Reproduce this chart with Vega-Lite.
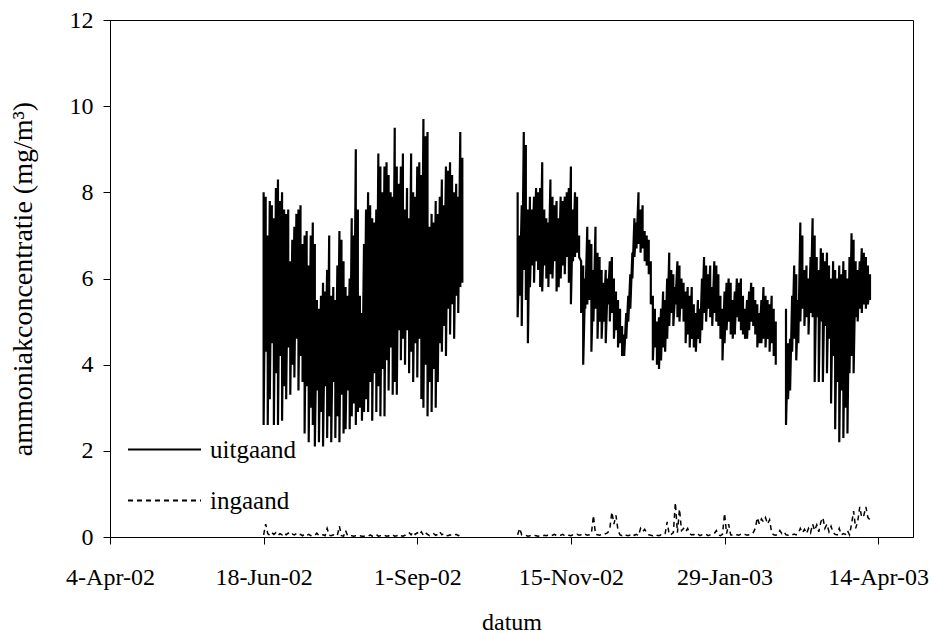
{
"$schema":"https://vega.github.io/schema/vega-lite/v6.json",
"width":803,"height":517,
"autosize":{"type":"none"},
"padding":{"left":110,"top":20,"right":21,"bottom":96},
"background":"white",
"config":{
"font":"Liberation Serif, Times New Roman, serif",
"view":{"stroke":"black","strokeWidth":1},
"axis":{"domainColor":"black","domainWidth":1,"tickColor":"black","tickSize":7,"labelColor":"black","titleColor":"black","labelFont":"Liberation Serif, Times New Roman, serif","titleFont":"Liberation Serif, Times New Roman, serif","labelFontSize":24,"titleFontSize":24,"titleFontWeight":"normal","grid":false,"labelFlush":false},
"legend":{"orient":"none","legendX":17,"legendY":392,"padding":0,"symbolType":"stroke","symbolSize":5329,"symbolStrokeColor":"black","symbolStrokeWidth":2,"labelFont":"Liberation Serif, Times New Roman, serif","labelFontSize":25,"labelColor":"black","labelOffset":8,"rowPadding":-36,"title":null}
},
"datasets":{
"uit":[
{"t":"2002-06-18","hi":8.0,"lo":2.6},{"t":"2002-06-19","hi":7.9,"lo":4.3},{"t":"2002-06-20","hi":7.0,"lo":2.6},{"t":"2002-06-21","hi":7.8,"lo":3.2},{"t":"2002-06-22","hi":7.7,"lo":4.5},{"t":"2002-06-23","hi":7.4,"lo":2.6},{"t":"2002-06-24","hi":8.1,"lo":3.8},{"t":"2002-06-25","hi":8.3,"lo":2.6},{"t":"2002-06-26","hi":7.8,"lo":4.2},{"t":"2002-06-27","hi":8.0,"lo":2.7},{"t":"2002-06-28","hi":7.6,"lo":3.5},{"t":"2002-06-29","hi":7.5,"lo":3.2},{"t":"2002-06-30","hi":7.6,"lo":4.4},
{"t":"2002-07-01","hi":6.4,"lo":3.3},{"t":"2002-07-02","hi":6.9,"lo":4.0},{"t":"2002-07-03","hi":7.2,"lo":3.7},{"t":"2002-07-04","hi":7.5,"lo":4.6},{"t":"2002-07-05","hi":7.6,"lo":3.4},{"t":"2002-07-06","hi":7.7,"lo":4.2},{"t":"2002-07-07","hi":6.8,"lo":3.6},{"t":"2002-07-08","hi":7.0,"lo":2.4},{"t":"2002-07-09","hi":7.1,"lo":3.5},{"t":"2002-07-10","hi":6.3,"lo":2.2},{"t":"2002-07-11","hi":7.0,"lo":3.0},{"t":"2002-07-12","hi":7.3,"lo":2.6},{"t":"2002-07-13","hi":6.8,"lo":2.1},{"t":"2002-07-14","hi":5.5,"lo":3.4},{"t":"2002-07-15","hi":5.3,"lo":2.2},{"t":"2002-07-16","hi":5.6,"lo":2.9},{"t":"2002-07-17","hi":5.9,"lo":2.1},{"t":"2002-07-18","hi":5.7,"lo":3.5},{"t":"2002-07-19","hi":6.2,"lo":2.3},{"t":"2002-07-20","hi":7.0,"lo":2.8},{"t":"2002-07-21","hi":5.6,"lo":2.2},{"t":"2002-07-22","hi":5.8,"lo":3.6},{"t":"2002-07-23","hi":5.5,"lo":2.3},{"t":"2002-07-24","hi":6.3,"lo":2.8},{"t":"2002-07-25","hi":7.1,"lo":2.2},{"t":"2002-07-26","hi":6.9,"lo":3.3},{"t":"2002-07-27","hi":6.4,"lo":2.4},{"t":"2002-07-28","hi":5.8,"lo":2.5},{"t":"2002-07-29","hi":5.6,"lo":3.4},{"t":"2002-07-30","hi":6.0,"lo":2.5},{"t":"2002-07-31","hi":7.4,"lo":2.8},
{"t":"2002-08-01","hi":7.0,"lo":3.1},{"t":"2002-08-02","hi":9.0,"lo":2.6},{"t":"2002-08-03","hi":7.6,"lo":2.9},{"t":"2002-08-04","hi":5.6,"lo":3.0},{"t":"2002-08-05","hi":5.2,"lo":2.7},{"t":"2002-08-06","hi":6.8,"lo":2.9},{"t":"2002-08-07","hi":7.6,"lo":3.2},{"t":"2002-08-08","hi":8.0,"lo":2.9},{"t":"2002-08-09","hi":7.7,"lo":3.6},{"t":"2002-08-10","hi":7.4,"lo":2.7},{"t":"2002-08-11","hi":7.3,"lo":3.8},{"t":"2002-08-12","hi":7.6,"lo":2.9},{"t":"2002-08-13","hi":8.9,"lo":3.5},{"t":"2002-08-14","hi":8.6,"lo":2.8},{"t":"2002-08-15","hi":8.0,"lo":3.9},{"t":"2002-08-16","hi":8.6,"lo":2.8},{"t":"2002-08-17","hi":8.7,"lo":4.1},{"t":"2002-08-18","hi":8.4,"lo":3.4},{"t":"2002-08-19","hi":8.0,"lo":4.4},{"t":"2002-08-20","hi":7.9,"lo":3.3},{"t":"2002-08-21","hi":9.5,"lo":3.6},{"t":"2002-08-22","hi":8.6,"lo":3.3},{"t":"2002-08-23","hi":8.2,"lo":4.8},{"t":"2002-08-24","hi":8.6,"lo":4.1},{"t":"2002-08-25","hi":8.9,"lo":4.6},{"t":"2002-08-26","hi":7.6,"lo":4.0},{"t":"2002-08-27","hi":8.1,"lo":4.8},{"t":"2002-08-28","hi":7.4,"lo":3.8},{"t":"2002-08-29","hi":8.9,"lo":4.3},{"t":"2002-08-30","hi":8.0,"lo":3.6},{"t":"2002-08-31","hi":7.9,"lo":4.5},
{"t":"2002-09-01","hi":8.6,"lo":3.7},{"t":"2002-09-02","hi":8.7,"lo":4.6},{"t":"2002-09-03","hi":8.4,"lo":3.2},{"t":"2002-09-04","hi":9.7,"lo":3.0},{"t":"2002-09-05","hi":9.3,"lo":4.0},{"t":"2002-09-06","hi":9.4,"lo":2.8},{"t":"2002-09-07","hi":7.2,"lo":3.6},{"t":"2002-09-08","hi":7.5,"lo":2.9},{"t":"2002-09-09","hi":7.3,"lo":3.9},{"t":"2002-09-10","hi":7.8,"lo":3.0},{"t":"2002-09-11","hi":7.5,"lo":3.6},{"t":"2002-09-12","hi":7.9,"lo":4.5},{"t":"2002-09-13","hi":8.3,"lo":4.3},{"t":"2002-09-14","hi":7.7,"lo":4.9},{"t":"2002-09-15","hi":8.6,"lo":4.2},{"t":"2002-09-16","hi":8.5,"lo":5.3},{"t":"2002-09-17","hi":8.7,"lo":4.7},{"t":"2002-09-18","hi":8.4,"lo":5.4},{"t":"2002-09-19","hi":8.0,"lo":4.6},{"t":"2002-09-20","hi":8.2,"lo":5.6},{"t":"2002-09-21","hi":7.9,"lo":5.2},{"t":"2002-09-22","hi":9.4,"lo":5.8},{"t":"2002-09-23","hi":8.8,"lo":5.9},
{"t":"2002-10-05","hi":null,"lo":null},
{"t":"2002-10-20","hi":8.0,"lo":5.1},{"t":"2002-10-21","hi":7.0,"lo":5.6},{"t":"2002-10-22","hi":7.7,"lo":4.9},{"t":"2002-10-23","hi":9.4,"lo":6.2},{"t":"2002-10-24","hi":9.1,"lo":5.5},{"t":"2002-10-25","hi":7.6,"lo":4.5},{"t":"2002-10-26","hi":7.9,"lo":5.8},{"t":"2002-10-27","hi":7.6,"lo":6.3},{"t":"2002-10-28","hi":7.9,"lo":5.9},{"t":"2002-10-29","hi":8.1,"lo":6.4},{"t":"2002-10-30","hi":8.0,"lo":6.2},{"t":"2002-10-31","hi":8.1,"lo":5.8},
{"t":"2002-11-01","hi":8.7,"lo":5.7},{"t":"2002-11-02","hi":7.6,"lo":6.3},{"t":"2002-11-03","hi":7.4,"lo":6.0},{"t":"2002-11-04","hi":7.3,"lo":5.8},{"t":"2002-11-05","hi":8.3,"lo":6.1},{"t":"2002-11-06","hi":7.9,"lo":6.0},{"t":"2002-11-07","hi":7.7,"lo":6.4},{"t":"2002-11-08","hi":7.8,"lo":5.7},{"t":"2002-11-09","hi":7.4,"lo":5.8},{"t":"2002-11-10","hi":7.9,"lo":6.0},{"t":"2002-11-11","hi":7.8,"lo":6.3},{"t":"2002-11-12","hi":7.9,"lo":6.1},{"t":"2002-11-13","hi":8.0,"lo":6.5},{"t":"2002-11-14","hi":8.1,"lo":5.9},{"t":"2002-11-15","hi":8.6,"lo":5.4},{"t":"2002-11-16","hi":7.6,"lo":6.4},{"t":"2002-11-17","hi":8.0,"lo":6.5},{"t":"2002-11-18","hi":7.9,"lo":6.6},{"t":"2002-11-19","hi":7.0,"lo":6.5},{"t":"2002-11-20","hi":6.4,"lo":5.2},{"t":"2002-11-21","hi":6.3,"lo":4.0},{"t":"2002-11-22","hi":6.0,"lo":5.3},{"t":"2002-11-23","hi":7.2,"lo":5.4},{"t":"2002-11-24","hi":6.9,"lo":5.5},{"t":"2002-11-25","hi":6.8,"lo":4.3},{"t":"2002-11-26","hi":6.2,"lo":5.0},{"t":"2002-11-27","hi":7.2,"lo":5.3},{"t":"2002-11-28","hi":6.6,"lo":4.6},{"t":"2002-11-29","hi":6.5,"lo":5.0},{"t":"2002-11-30","hi":6.2,"lo":4.6},
{"t":"2002-12-01","hi":5.9,"lo":5.0},{"t":"2002-12-02","hi":6.2,"lo":4.5},{"t":"2002-12-03","hi":6.0,"lo":5.4},{"t":"2002-12-04","hi":6.4,"lo":5.0},{"t":"2002-12-05","hi":6.5,"lo":5.2},{"t":"2002-12-06","hi":6.0,"lo":4.6},{"t":"2002-12-07","hi":5.7,"lo":4.8},{"t":"2002-12-08","hi":5.5,"lo":4.4},{"t":"2002-12-09","hi":5.3,"lo":4.5},{"t":"2002-12-10","hi":4.9,"lo":4.2},{"t":"2002-12-11","hi":4.7,"lo":4.2},{"t":"2002-12-12","hi":5.2,"lo":4.6},{"t":"2002-12-13","hi":5.6,"lo":5.0},{"t":"2002-12-14","hi":6.1,"lo":5.3},{"t":"2002-12-15","hi":6.6,"lo":6.0},{"t":"2002-12-16","hi":7.4,"lo":6.5},{"t":"2002-12-17","hi":7.3,"lo":6.7},{"t":"2002-12-18","hi":8.0,"lo":6.8},{"t":"2002-12-19","hi":7.6,"lo":6.6},{"t":"2002-12-20","hi":7.7,"lo":6.7},{"t":"2002-12-21","hi":7.1,"lo":6.4},{"t":"2002-12-22","hi":7.0,"lo":6.3},{"t":"2002-12-23","hi":6.9,"lo":6.1},{"t":"2002-12-24","hi":6.4,"lo":5.4},{"t":"2002-12-25","hi":5.6,"lo":4.1},{"t":"2002-12-26","hi":5.3,"lo":4.4},{"t":"2002-12-27","hi":5.0,"lo":4.0},{"t":"2002-12-28","hi":5.1,"lo":3.9},{"t":"2002-12-29","hi":5.3,"lo":4.1},{"t":"2002-12-30","hi":5.7,"lo":4.4},{"t":"2002-12-31","hi":5.5,"lo":4.3},
{"t":"2003-01-01","hi":6.0,"lo":4.6},{"t":"2003-01-02","hi":6.6,"lo":4.9},{"t":"2003-01-03","hi":6.2,"lo":5.2},{"t":"2003-01-04","hi":6.1,"lo":4.9},{"t":"2003-01-05","hi":5.8,"lo":5.4},{"t":"2003-01-06","hi":6.4,"lo":5.1},{"t":"2003-01-07","hi":6.3,"lo":5.0},{"t":"2003-01-08","hi":6.0,"lo":5.3},{"t":"2003-01-09","hi":5.9,"lo":5.0},{"t":"2003-01-10","hi":5.7,"lo":4.5},{"t":"2003-01-11","hi":5.8,"lo":4.7},{"t":"2003-01-12","hi":5.6,"lo":4.4},{"t":"2003-01-13","hi":5.8,"lo":4.6},{"t":"2003-01-14","hi":5.4,"lo":4.4},{"t":"2003-01-15","hi":5.2,"lo":4.3},{"t":"2003-01-16","hi":5.5,"lo":4.6},{"t":"2003-01-17","hi":5.3,"lo":4.5},{"t":"2003-01-18","hi":6.0,"lo":4.8},{"t":"2003-01-19","hi":6.5,"lo":5.2},{"t":"2003-01-20","hi":6.3,"lo":5.0},{"t":"2003-01-21","hi":6.1,"lo":5.3},{"t":"2003-01-22","hi":6.3,"lo":5.1},{"t":"2003-01-23","hi":5.8,"lo":4.9},{"t":"2003-01-24","hi":6.4,"lo":5.2},{"t":"2003-01-25","hi":6.3,"lo":5.0},{"t":"2003-01-26","hi":6.1,"lo":4.9},{"t":"2003-01-27","hi":5.6,"lo":4.6},{"t":"2003-01-28","hi":5.3,"lo":4.1},{"t":"2003-01-29","hi":5.7,"lo":4.5},{"t":"2003-01-30","hi":5.9,"lo":4.8},{"t":"2003-01-31","hi":6.0,"lo":5.0},
{"t":"2003-02-01","hi":5.9,"lo":4.7},{"t":"2003-02-02","hi":5.5,"lo":4.6},{"t":"2003-02-03","hi":5.7,"lo":4.7},{"t":"2003-02-04","hi":6.0,"lo":5.1},{"t":"2003-02-05","hi":5.9,"lo":5.0},{"t":"2003-02-06","hi":6.0,"lo":4.8},{"t":"2003-02-07","hi":5.6,"lo":4.7},{"t":"2003-02-08","hi":5.3,"lo":4.6},{"t":"2003-02-09","hi":5.5,"lo":4.6},{"t":"2003-02-10","hi":5.7,"lo":4.8},{"t":"2003-02-11","hi":5.9,"lo":5.0},{"t":"2003-02-12","hi":5.8,"lo":4.9},{"t":"2003-02-13","hi":5.5,"lo":4.7},{"t":"2003-02-14","hi":5.4,"lo":4.4},{"t":"2003-02-15","hi":5.2,"lo":4.5},{"t":"2003-02-16","hi":5.5,"lo":4.5},{"t":"2003-02-17","hi":5.8,"lo":4.6},{"t":"2003-02-18","hi":5.6,"lo":4.4},{"t":"2003-02-19","hi":5.5,"lo":4.6},{"t":"2003-02-20","hi":5.4,"lo":4.3},{"t":"2003-02-21","hi":5.6,"lo":4.5},{"t":"2003-02-22","hi":5.3,"lo":4.2},{"t":"2003-02-23","hi":5.0,"lo":4.0},
{"t":"2003-02-25","hi":null,"lo":null},
{"t":"2003-02-28","hi":5.3,"lo":2.6},
{"t":"2003-03-01","hi":4.5,"lo":3.2},{"t":"2003-03-02","hi":4.6,"lo":3.4},{"t":"2003-03-03","hi":5.6,"lo":4.3},{"t":"2003-03-04","hi":6.3,"lo":4.6},{"t":"2003-03-05","hi":6.1,"lo":4.1},{"t":"2003-03-06","hi":5.5,"lo":4.5},{"t":"2003-03-07","hi":7.3,"lo":5.0},{"t":"2003-03-08","hi":7.0,"lo":5.3},{"t":"2003-03-09","hi":6.2,"lo":4.9},{"t":"2003-03-10","hi":6.3,"lo":5.1},{"t":"2003-03-11","hi":6.0,"lo":4.7},{"t":"2003-03-12","hi":6.5,"lo":5.2},{"t":"2003-03-13","hi":7.4,"lo":5.1},{"t":"2003-03-14","hi":7.0,"lo":3.6},{"t":"2003-03-15","hi":6.5,"lo":5.1},{"t":"2003-03-16","hi":6.2,"lo":3.6},{"t":"2003-03-17","hi":6.7,"lo":5.0},{"t":"2003-03-18","hi":6.6,"lo":3.6},{"t":"2003-03-19","hi":6.4,"lo":4.9},{"t":"2003-03-20","hi":6.6,"lo":3.8},{"t":"2003-03-21","hi":6.3,"lo":4.6},{"t":"2003-03-22","hi":6.0,"lo":3.1},{"t":"2003-03-23","hi":6.4,"lo":4.2},{"t":"2003-03-24","hi":6.2,"lo":2.5},{"t":"2003-03-25","hi":6.0,"lo":3.6},{"t":"2003-03-26","hi":6.3,"lo":2.2},{"t":"2003-03-27","hi":6.1,"lo":3.4},{"t":"2003-03-28","hi":6.4,"lo":2.3},{"t":"2003-03-29","hi":6.2,"lo":3.0},{"t":"2003-03-30","hi":6.0,"lo":2.4},{"t":"2003-03-31","hi":6.5,"lo":3.8},
{"t":"2003-04-01","hi":7.05,"lo":4.2},{"t":"2003-04-02","hi":6.9,"lo":3.8},{"t":"2003-04-03","hi":6.4,"lo":5.1},{"t":"2003-04-04","hi":6.2,"lo":5.0},{"t":"2003-04-05","hi":6.4,"lo":5.3},{"t":"2003-04-06","hi":6.7,"lo":5.2},{"t":"2003-04-07","hi":6.6,"lo":5.4},{"t":"2003-04-08","hi":6.5,"lo":5.3},{"t":"2003-04-09","hi":6.3,"lo":5.4},{"t":"2003-04-10","hi":6.1,"lo":5.5}
],
"in":[
{"t":"2002-06-18","v":0.05},{"t":"2002-06-19","v":0.3},{"t":"2002-06-20","v":0.08},{"t":"2002-06-21","v":0.04},{"t":"2002-06-22","v":0.1},{"t":"2002-06-23","v":0.06},{"t":"2002-06-24","v":0.1},{"t":"2002-06-25","v":0.04},{"t":"2002-06-26","v":0.08},{"t":"2002-06-27","v":0.05},{"t":"2002-06-28","v":0.1},{"t":"2002-06-29","v":0.05},{"t":"2002-06-30","v":0.09},
{"t":"2002-07-01","v":0.04},{"t":"2002-07-02","v":0.07},{"t":"2002-07-03","v":0.05},{"t":"2002-07-04","v":0.08},{"t":"2002-07-05","v":0.04},{"t":"2002-07-06","v":0.06},{"t":"2002-07-07","v":0.03},{"t":"2002-07-08","v":0.07},{"t":"2002-07-09","v":0.04},{"t":"2002-07-10","v":0.06},{"t":"2002-07-11","v":0.03},{"t":"2002-07-12","v":0.05},{"t":"2002-07-13","v":0.04},{"t":"2002-07-14","v":0.09},{"t":"2002-07-15","v":0.03},{"t":"2002-07-16","v":0.04},{"t":"2002-07-17","v":0.05},{"t":"2002-07-18","v":0.03},{"t":"2002-07-19","v":0.2},{"t":"2002-07-20","v":0.04},{"t":"2002-07-21","v":0.03},{"t":"2002-07-22","v":0.05},{"t":"2002-07-23","v":0.02},{"t":"2002-07-24","v":0.04},{"t":"2002-07-25","v":0.25},{"t":"2002-07-26","v":0.03},{"t":"2002-07-27","v":0.02},{"t":"2002-07-28","v":0.15},{"t":"2002-07-29","v":0.03},{"t":"2002-07-30","v":0.02},{"t":"2002-07-31","v":0.03},
{"t":"2002-08-01","v":0.02},{"t":"2002-08-02","v":0.03},{"t":"2002-08-03","v":0.02},{"t":"2002-08-04","v":0.03},{"t":"2002-08-05","v":0.02},{"t":"2002-08-06","v":0.02},{"t":"2002-08-07","v":0.03},{"t":"2002-08-08","v":0.02},{"t":"2002-08-09","v":0.05},{"t":"2002-08-10","v":0.02},{"t":"2002-08-11","v":0.03},{"t":"2002-08-12","v":0.06},{"t":"2002-08-13","v":0.02},{"t":"2002-08-14","v":0.03},{"t":"2002-08-15","v":0.02},{"t":"2002-08-16","v":0.04},{"t":"2002-08-17","v":0.02},{"t":"2002-08-18","v":0.03},{"t":"2002-08-19","v":0.02},{"t":"2002-08-20","v":0.05},{"t":"2002-08-21","v":0.02},{"t":"2002-08-22","v":0.03},{"t":"2002-08-23","v":0.06},{"t":"2002-08-24","v":0.03},{"t":"2002-08-25","v":0.02},{"t":"2002-08-26","v":0.04},{"t":"2002-08-27","v":0.08},{"t":"2002-08-28","v":0.1},{"t":"2002-08-29","v":0.05},{"t":"2002-08-30","v":0.12},{"t":"2002-08-31","v":0.06},
{"t":"2002-09-01","v":0.1},{"t":"2002-09-02","v":0.05},{"t":"2002-09-03","v":0.12},{"t":"2002-09-04","v":0.04},{"t":"2002-09-05","v":0.1},{"t":"2002-09-06","v":0.06},{"t":"2002-09-07","v":0.03},{"t":"2002-09-08","v":0.05},{"t":"2002-09-09","v":0.08},{"t":"2002-09-10","v":0.04},{"t":"2002-09-11","v":0.06},{"t":"2002-09-12","v":0.12},{"t":"2002-09-13","v":0.05},{"t":"2002-09-14","v":0.08},{"t":"2002-09-15","v":0.04},{"t":"2002-09-16","v":0.03},{"t":"2002-09-17","v":0.05},{"t":"2002-09-18","v":0.03},{"t":"2002-09-19","v":0.04},{"t":"2002-09-20","v":0.06},{"t":"2002-09-21","v":0.03},{"t":"2002-09-22","v":0.05},{"t":"2002-09-23","v":0.04},
{"t":"2002-10-05","v":null},
{"t":"2002-10-20","v":0.05},{"t":"2002-10-21","v":0.2},{"t":"2002-10-22","v":0.05},{"t":"2002-10-23","v":0.03},{"t":"2002-10-24","v":0.04},{"t":"2002-10-25","v":0.02},{"t":"2002-10-26","v":0.03},{"t":"2002-10-27","v":0.02},{"t":"2002-10-28","v":0.04},{"t":"2002-10-29","v":0.03},{"t":"2002-10-30","v":0.02},{"t":"2002-10-31","v":0.03},
{"t":"2002-11-01","v":0.02},{"t":"2002-11-02","v":0.04},{"t":"2002-11-03","v":0.03},{"t":"2002-11-04","v":0.05},{"t":"2002-11-05","v":0.03},{"t":"2002-11-06","v":0.04},{"t":"2002-11-07","v":0.06},{"t":"2002-11-08","v":0.03},{"t":"2002-11-09","v":0.05},{"t":"2002-11-10","v":0.04},{"t":"2002-11-11","v":0.06},{"t":"2002-11-12","v":0.03},{"t":"2002-11-13","v":0.05},{"t":"2002-11-14","v":0.04},{"t":"2002-11-15","v":0.03},{"t":"2002-11-16","v":0.05},{"t":"2002-11-17","v":0.04},{"t":"2002-11-18","v":0.06},{"t":"2002-11-19","v":0.04},{"t":"2002-11-20","v":0.05},{"t":"2002-11-21","v":0.03},{"t":"2002-11-22","v":0.06},{"t":"2002-11-23","v":0.04},{"t":"2002-11-24","v":0.05},{"t":"2002-11-25","v":0.08},{"t":"2002-11-26","v":0.5},{"t":"2002-11-27","v":0.06},{"t":"2002-11-28","v":0.05},{"t":"2002-11-29","v":0.04},{"t":"2002-11-30","v":0.06},
{"t":"2002-12-01","v":0.05},{"t":"2002-12-02","v":0.08},{"t":"2002-12-03","v":0.1},{"t":"2002-12-04","v":0.2},{"t":"2002-12-05","v":0.58},{"t":"2002-12-06","v":0.3},{"t":"2002-12-07","v":0.5},{"t":"2002-12-08","v":0.15},{"t":"2002-12-09","v":0.05},{"t":"2002-12-10","v":0.03},{"t":"2002-12-11","v":0.06},{"t":"2002-12-12","v":0.04},{"t":"2002-12-13","v":0.03},{"t":"2002-12-14","v":0.05},{"t":"2002-12-15","v":0.08},{"t":"2002-12-16","v":0.04},{"t":"2002-12-17","v":0.06},{"t":"2002-12-18","v":0.03},{"t":"2002-12-19","v":0.2},{"t":"2002-12-20","v":0.12},{"t":"2002-12-21","v":0.18},{"t":"2002-12-22","v":0.1},{"t":"2002-12-23","v":0.05},{"t":"2002-12-24","v":0.04},{"t":"2002-12-25","v":0.03},{"t":"2002-12-26","v":0.06},{"t":"2002-12-27","v":0.04},{"t":"2002-12-28","v":0.03},{"t":"2002-12-29","v":0.05},{"t":"2002-12-30","v":0.04},{"t":"2002-12-31","v":0.08},
{"t":"2003-01-01","v":0.35},{"t":"2003-01-02","v":0.05},{"t":"2003-01-03","v":0.06},{"t":"2003-01-04","v":0.1},{"t":"2003-01-05","v":0.8},{"t":"2003-01-06","v":0.1},{"t":"2003-01-07","v":0.65},{"t":"2003-01-08","v":0.15},{"t":"2003-01-09","v":0.2},{"t":"2003-01-10","v":0.12},{"t":"2003-01-11","v":0.2},{"t":"2003-01-12","v":0.08},{"t":"2003-01-13","v":0.05},{"t":"2003-01-14","v":0.06},{"t":"2003-01-15","v":0.04},{"t":"2003-01-16","v":0.07},{"t":"2003-01-17","v":0.03},{"t":"2003-01-18","v":0.05},{"t":"2003-01-19","v":0.04},{"t":"2003-01-20","v":0.06},{"t":"2003-01-21","v":0.03},{"t":"2003-01-22","v":0.05},{"t":"2003-01-23","v":0.07},{"t":"2003-01-24","v":0.08},{"t":"2003-01-25","v":0.15},{"t":"2003-01-26","v":0.05},{"t":"2003-01-27","v":0.03},{"t":"2003-01-28","v":0.06},{"t":"2003-01-29","v":0.55},{"t":"2003-01-30","v":0.08},{"t":"2003-01-31","v":0.3},
{"t":"2003-02-01","v":0.05},{"t":"2003-02-02","v":0.04},{"t":"2003-02-03","v":0.06},{"t":"2003-02-04","v":0.05},{"t":"2003-02-05","v":0.04},{"t":"2003-02-06","v":0.07},{"t":"2003-02-07","v":0.05},{"t":"2003-02-08","v":0.06},{"t":"2003-02-09","v":0.04},{"t":"2003-02-10","v":0.05},{"t":"2003-02-11","v":0.06},{"t":"2003-02-12","v":0.1},{"t":"2003-02-13","v":0.2},{"t":"2003-02-14","v":0.45},{"t":"2003-02-15","v":0.3},{"t":"2003-02-16","v":0.42},{"t":"2003-02-17","v":0.35},{"t":"2003-02-18","v":0.45},{"t":"2003-02-19","v":0.3},{"t":"2003-02-20","v":0.4},{"t":"2003-02-21","v":0.1},{"t":"2003-02-22","v":0.05},{"t":"2003-02-23","v":0.04},{"t":"2003-02-24","v":0.06},{"t":"2003-02-25","v":0.15},{"t":"2003-02-26","v":0.08},{"t":"2003-02-27","v":0.12},{"t":"2003-02-28","v":0.05},
{"t":"2003-03-01","v":0.04},{"t":"2003-03-02","v":0.06},{"t":"2003-03-03","v":0.05},{"t":"2003-03-04","v":0.07},{"t":"2003-03-05","v":0.05},{"t":"2003-03-06","v":0.08},{"t":"2003-03-07","v":0.2},{"t":"2003-03-08","v":0.1},{"t":"2003-03-09","v":0.18},{"t":"2003-03-10","v":0.08},{"t":"2003-03-11","v":0.2},{"t":"2003-03-12","v":0.1},{"t":"2003-03-13","v":0.3},{"t":"2003-03-14","v":0.15},{"t":"2003-03-15","v":0.28},{"t":"2003-03-16","v":0.12},{"t":"2003-03-17","v":0.35},{"t":"2003-03-18","v":0.45},{"t":"2003-03-19","v":0.2},{"t":"2003-03-20","v":0.3},{"t":"2003-03-21","v":0.12},{"t":"2003-03-22","v":0.25},{"t":"2003-03-23","v":0.1},{"t":"2003-03-24","v":0.06},{"t":"2003-03-25","v":0.05},{"t":"2003-03-26","v":0.2},{"t":"2003-03-27","v":0.05},{"t":"2003-03-28","v":0.08},{"t":"2003-03-29","v":0.06},{"t":"2003-03-30","v":0.15},{"t":"2003-03-31","v":0.05},
{"t":"2003-04-01","v":0.3},{"t":"2003-04-02","v":0.6},{"t":"2003-04-03","v":0.2},{"t":"2003-04-04","v":0.35},{"t":"2003-04-05","v":0.7},{"t":"2003-04-06","v":0.45},{"t":"2003-04-07","v":0.5},{"t":"2003-04-08","v":0.7},{"t":"2003-04-09","v":0.45},{"t":"2003-04-10","v":0.4}
]
},
"layer":[
{"data":{"name":"uit"},
"transform":[{"fold":["hi","lo"],"as":["k","v"]}],
"mark":{"type":"line","color":"black","strokeWidth":2.2,"invalid":"break-paths-filter-domains"},
"encoding":{
"x":{"field":"t","type":"temporal","title":"datum",
"scale":{"type":"utc","domain":[{"year":2002,"month":4,"date":4,"utc":true},{"year":2003,"month":5,"date":1,"utc":true}]},
"axis":{"values":[{"year":2002,"month":4,"date":4,"utc":true},{"year":2002,"month":6,"date":18,"utc":true},{"year":2002,"month":9,"date":1,"utc":true},{"year":2002,"month":11,"date":15,"utc":true},{"year":2003,"month":1,"date":29,"utc":true},{"year":2003,"month":4,"date":14,"utc":true}],"labelExpr":"utcFormat(datum.value, '%-d-%b-%y')","labelPadding":21,"titlePadding":21}},
"y":{"field":"v","type":"quantitative","title":"ammoniakconcentratie (mg/m³)",
"scale":{"domain":[0,12],"nice":false},
"axis":{"values":[0,2,4,6,8,10,12],"labelPadding":10,"titlePadding":32,"titleFontSize":28}},
"order":[{"field":"t","type":"temporal"},{"field":"k"}],
"strokeDash":{"datum":"uitgaand","type":"nominal","scale":{"domain":["uitgaand","ingaand"],"range":[[1,0],[5,4]]}}
}},
{"data":{"name":"in"},
"mark":{"type":"line","color":"black","strokeWidth":1.5,"invalid":"break-paths-filter-domains"},
"encoding":{
"x":{"field":"t","type":"temporal"},
"y":{"field":"v","type":"quantitative"},
"strokeDash":{"datum":"ingaand","type":"nominal"}
}}
]
}
